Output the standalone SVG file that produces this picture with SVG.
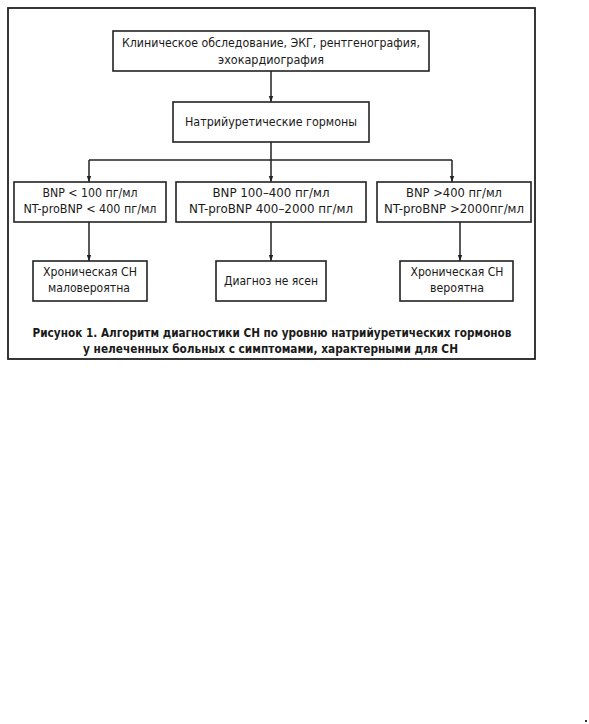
<svg xmlns="http://www.w3.org/2000/svg" width="589" height="724" viewBox="0 0 589 724">
<style>
.box{fill:#fff;stroke:#222;stroke-width:1.6}
.frame{fill:#fff;stroke:#222;stroke-width:1.8}
.t{font-family:"DejaVu Sans Condensed","DejaVu Sans","Liberation Sans",sans-serif;font-stretch:condensed;font-size:11.5px;fill:#1a1a1a;text-anchor:middle}
.cap{font-family:"DejaVu Sans Condensed","DejaVu Sans","Liberation Sans",sans-serif;font-stretch:condensed;font-size:12px;font-weight:bold;fill:#1a1a1a;text-anchor:middle}
.ln{fill:none;stroke:#222;stroke-width:1.5}
</style>
<defs>
<marker id="ah" viewBox="0 0 6 8" refX="6" refY="4" markerWidth="6" markerHeight="8" orient="auto" markerUnits="userSpaceOnUse">
<path d="M0,1.8 L6,4 L0,6.2 z" fill="#222"/>
</marker>
</defs>
<rect x="0" y="0" width="589" height="724" fill="#fff"/>
<rect class="frame" x="8" y="8" width="527" height="351"/>
<g id="connectors">
<line class="ln" x1="271" y1="71" x2="271" y2="102" marker-end="url(#ah)"/>
<polyline class="ln" points="271,142 271,160"/>
<polyline class="ln" points="89,160 452,160"/>
<line class="ln" x1="89" y1="160" x2="89" y2="182" marker-end="url(#ah)"/>
<line class="ln" x1="271" y1="160" x2="271" y2="182" marker-end="url(#ah)"/>
<line class="ln" x1="452" y1="160" x2="452" y2="182" marker-end="url(#ah)"/>
<line class="ln" x1="89" y1="222" x2="89" y2="261" marker-end="url(#ah)"/>
<line class="ln" x1="271" y1="222" x2="271" y2="261" marker-end="url(#ah)"/>
<line class="ln" x1="460" y1="222" x2="460" y2="261" marker-end="url(#ah)"/>
</g>
<g id="n1">
<rect class="box" x="113" y="31" width="316" height="40"/>
<text class="t" x="271" y="47" textLength="298" lengthAdjust="spacingAndGlyphs">Клиническое обследование, ЭКГ, рентгенография,</text>
<text class="t" x="271" y="64" textLength="106" lengthAdjust="spacingAndGlyphs">эхокардиография</text>
</g>
<g id="n2">
<rect class="box" x="173" y="102" width="196" height="40"/>
<text class="t" x="271" y="126" textLength="172" lengthAdjust="spacingAndGlyphs">Натрийуретические гормоны</text>
</g>
<g id="n3">
<rect class="box" x="14" y="182" width="152" height="40"/>
<text class="t" x="90" y="197" textLength="95" lengthAdjust="spacingAndGlyphs">BNP &lt; 100 пг/мл</text>
<text class="t" x="90" y="213" textLength="133" lengthAdjust="spacingAndGlyphs">NT-proBNP &lt; 400 пг/мл</text>
</g>
<g id="n4">
<rect class="box" x="176" y="182" width="190" height="40"/>
<text class="t" x="271" y="197" textLength="117" lengthAdjust="spacingAndGlyphs">BNP 100–400 пг/мл</text>
<text class="t" x="271" y="213" textLength="164" lengthAdjust="spacingAndGlyphs">NT-proBNP 400–2000 пг/мл</text>
</g>
<g id="n5">
<rect class="box" x="377" y="182" width="154" height="40"/>
<text class="t" x="454" y="197" textLength="96" lengthAdjust="spacingAndGlyphs">BNP &gt;400 пг/мл</text>
<text class="t" x="454" y="213" textLength="140" lengthAdjust="spacingAndGlyphs">NT-proBNP &gt;2000пг/мл</text>
</g>
<g id="n6">
<rect class="box" x="33" y="261" width="114" height="40"/>
<text class="t" x="90" y="276" textLength="94" lengthAdjust="spacingAndGlyphs">Хроническая СН</text>
<text class="t" x="89" y="292" textLength="82" lengthAdjust="spacingAndGlyphs">маловероятна</text>
</g>
<g id="n7">
<rect class="box" x="216" y="261" width="110" height="40"/>
<text class="t" x="271" y="285" textLength="94" lengthAdjust="spacingAndGlyphs">Диагноз не ясен</text>
</g>
<g id="n8">
<rect class="box" x="400" y="261" width="113" height="40"/>
<text class="t" x="457" y="276" textLength="93" lengthAdjust="spacingAndGlyphs">Хроническая СН</text>
<text class="t" x="457" y="292" textLength="54" lengthAdjust="spacingAndGlyphs">вероятна</text>
</g>
<g id="caption">
<text class="cap" x="272" y="337" textLength="479" lengthAdjust="spacingAndGlyphs">Рисунок 1. Алгоритм диагностики СН по уровню натрийуретических гормонов</text>
<text class="cap" x="270.5" y="352.5" textLength="375" lengthAdjust="spacingAndGlyphs">у нелеченных больных с симптомами, характерными для СН</text>
</g>
<rect x="585" y="720" width="2" height="2" fill="#333"/>
</svg>
